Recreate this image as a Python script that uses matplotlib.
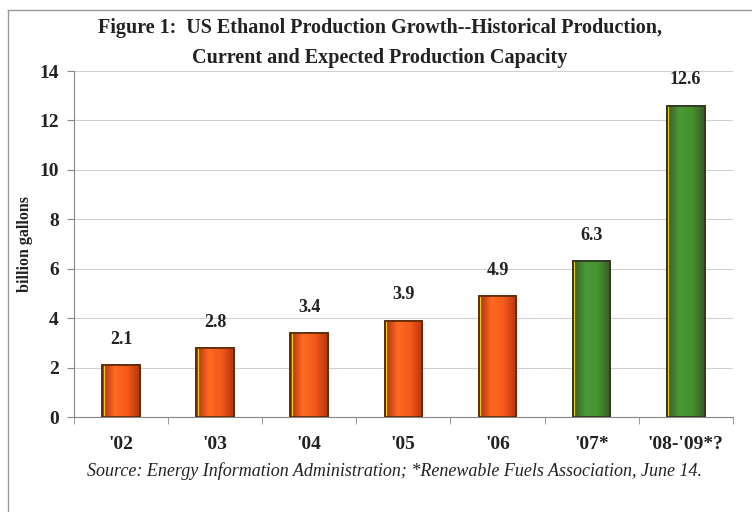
import matplotlib.pyplot as plt
import numpy as np
from matplotlib.colors import LinearSegmentedColormap

# Data
years = ["'02", "'03", "'04", "'05", "'06", "'07*", "'08-'09*?"]
production = [2.1, 2.8, 3.4, 3.9, 4.9, 6.3, 12.6]
is_capacity = [False, False, False, False, False, True, True]

plt.rcParams['font.family'] = ['Liberation Serif', 'DejaVu Serif']

fig = plt.figure(figsize=(7.52, 5.12), dpi=100)
ax = fig.add_axes([0.0984, 0.1855, 0.876, 0.6758])

x = np.arange(len(years))
colors = ['#3f8f2c' if c else '#f0501a' for c in is_capacity]
edges = ['#2c3a1c' if c else '#6a2a08' for c in is_capacity]
bars = ax.bar(x, production, width=0.4, color=colors, edgecolor=edges, linewidth=1.2, zorder=3)

# horizontal gradient fill, clipped to each bar
orange = LinearSegmentedColormap.from_list('o', ['#a8300c', '#ff6a22', '#f35a1a', '#b8340e'])
green = LinearSegmentedColormap.from_list('g', ['#3a5a28', '#4a9a36', '#45922f', '#3a5a28'])
grad = np.linspace(0, 1, 64).reshape(1, -1)
for b, cap in zip(bars, is_capacity):
    x0, w, h = b.get_x(), b.get_width(), b.get_height()
    im = ax.imshow(grad, cmap=green if cap else orange, aspect='auto',
                   extent=[x0, x0 + w, 0, h], zorder=3.5, interpolation='bicubic')
    im.set_clip_path(b)
    ax.plot([x0 + w * 0.04] * 2, [0, h], color='#e8d020', linewidth=0.8, zorder=3.6)
    ax.bar(x0 + w / 2, h, width=w, fill=False, edgecolor='#333322' if cap else '#5a2a08',
           linewidth=1.2, zorder=3.7)

for xi, v in zip(x, production):
    ax.text(xi, v + 0.7, f'{v:.1f}', ha='center', va='bottom', fontsize=13, fontweight='bold', color='#222222')

ax.set_xlim(-0.5, len(years) - 0.5)
ax.set_ylim(0, 14)
ax.set_yticks(range(0, 15, 2))
ax.set_xticks(x)
ax.set_xticklabels(years)
ax.set_xticks(np.arange(-0.5, len(years), 1), minor=True)
ax.tick_params(axis='x', which='major', length=0, pad=14, labelsize=14)
ax.tick_params(axis='x', which='minor', length=5, direction='out', color='#888888')
ax.tick_params(axis='y', length=5, direction='out', color='#888888', labelsize=14, pad=6)
for lbl in ax.get_xticklabels() + ax.get_yticklabels():
    lbl.set_fontweight('bold')
    lbl.set_color('#222222')

ax.yaxis.grid(True, color='#d0d0d0', linewidth=0.8, zorder=0)
for s in ['top', 'right']:
    ax.spines[s].set_visible(False)
for s in ['left', 'bottom']:
    ax.spines[s].set_color('#888888')

ax.set_ylabel('billion gallons', fontsize=11.5, fontweight='bold', color='#222222', labelpad=8)
ax.yaxis.set_label_coords(-0.062, 0.5)

fig.text(0.505, 0.945, 'Figure 1:  US Ethanol Production Growth--Historical Production,',
         ha='center', va='center', fontsize=14.5, fontweight='bold', color='#222222')
fig.text(0.505, 0.886, 'Current and Expected Production Capacity',
         ha='center', va='center', fontsize=14.5, fontweight='bold', color='#222222')
fig.text(0.525, 0.08, 'Source: Energy Information Administration; *Renewable Fuels Association, June 14.',
         ha='center', va='center', fontsize=13, style='italic', color='#222222')

# outer frame
fig.add_artist(plt.Line2D([0.01, 0.01], [0.0, 0.98], color='#999999', linewidth=1))
fig.add_artist(plt.Line2D([0.01, 1.0], [0.98, 0.98], color='#999999', linewidth=1))

fig.savefig('out.png', dpi=100)
